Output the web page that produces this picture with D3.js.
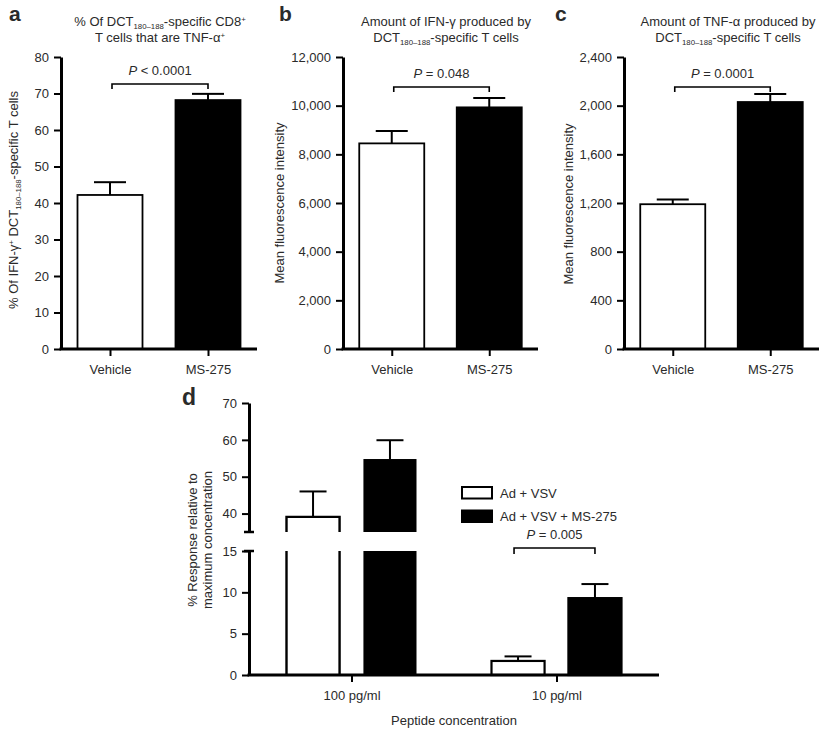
<!DOCTYPE html>
<html><head><meta charset="utf-8">
<script src="https://cdn.jsdelivr.net/npm/d3@7"></script>
<style>
body{margin:0;background:#fff;}
svg text{font-family:"Liberation Sans",Arial,Helvetica,sans-serif;fill:#2a2a2a;}
</style></head>
<body>
<svg id="chart" width="821" height="729"></svg>
<script>
// ---------- DATA ----------
const categories = ["Vehicle", "MS-275"];
const panelAValues = [42.2, 68.2];
const panelAErrors = [3.5, 1.7];
const panelATicks = [0, 10, 20, 30, 40, 50, 60, 70, 80];
const panelAP = "< 0.0001";

const panelBValues = [8450, 9930];
const panelBErrors = [510, 390];
const panelBTicks = [0, 2000, 4000, 6000, 8000, 10000, 12000];
const panelBP = "= 0.048";

const panelCValues = [1190, 2030];
const panelCErrors = [38, 65];
const panelCTicks = [0, 400, 800, 1200, 1600, 2000, 2400];
const panelCP = "= 0.0001";

const panelDGroups = ["100 pg/ml", "10 pg/ml"];
const panelDSeries = ["Ad + VSV", "Ad + VSV + MS-275"];
const panelDAdVsv = [39.1, 1.7];
const panelDAdVsvErr = [6.9, 0.55];
const panelDAdVsvMs = [54.8, 9.3];
const panelDAdVsvMsErr = [5.1, 1.7];
const panelDTicksTop = [40, 50, 60, 70];
const panelDTicksBottom = [0, 5, 10, 15];
const panelDBreak = [15, 35];
const panelDP = "= 0.005";

// ---------- HELPERS ----------
const svg = d3.select("#chart");
const fmt = d3.format(",");

function rich(sel, parts, size) {
  // parts: [text, kind] kind: "", "sub", "sup"
  let shift = 0;
  parts.forEach(([t, k]) => {
    const target = k === "sub" ? 2.5 : k === "sup" ? -4.5 : 0;
    sel.append("tspan").text(t)
      .attr("dy", target - shift)
      .attr("font-size", k ? size * 0.6 : size);
    shift = target;
  });
}

function styleAxis(g) {
  g.select(".domain").attr("stroke", "#000").attr("stroke-width", 3);
  g.selectAll(".tick line").attr("stroke", "#000").attr("stroke-width", 2);
  g.selectAll(".tick text").attr("font-size", 13).attr("fill", "#2a2a2a")
    .attr("font-family", '"Liberation Sans",Arial,sans-serif');
}

function errorBar(g, x, yFrom, yTo, capW) {
  g.append("line").attr("x1", x).attr("x2", x).attr("y1", yFrom).attr("y2", yTo)
    .attr("stroke", "#000").attr("stroke-width", 2);
  g.append("line").attr("x1", x - capW / 2).attr("x2", x + capW / 2).attr("y1", yTo).attr("y2", yTo)
    .attr("stroke", "#000").attr("stroke-width", 2);
}

function bracket(g, xa, xb, y, label, tipLen) {
  g.append("path").attr("d", `M${xa},${y + tipLen}V${y}H${xb}V${y + tipLen}`)
    .attr("fill", "none").attr("stroke", "#000").attr("stroke-width", 1.6);
  const t = g.append("text").attr("x", (xa + xb) / 2).attr("y", y - 9)
    .attr("text-anchor", "middle").attr("font-size", 13);
  t.append("tspan").attr("font-style", "italic").text("P");
  t.append("tspan").text(" " + label);
}

// ---------- PANELS a-c ----------
const panels = [
  { letter: "a", values: panelAValues, errors: panelAErrors, ticks: panelATicks, p: panelAP,
    x0: 61, x1: 257, letterX: 9, titleX: 160, ylabX: 18, ylabY: 200, bracketY: 84, tf: d => d,
    title: [[["% Of DCT", ""], ["180–188", "sub"], ["-specific CD8", ""], ["+", "sup"]],
            [["T cells that are TNF-α", ""], ["+", "sup"]]],
    ylab: [["% Of IFN-γ", ""], ["+", "sup"], [" DCT", ""], ["180–188", "sub"], ["-specific T cells", ""]] },
  { letter: "b", values: panelBValues, errors: panelBErrors, ticks: panelBTicks, p: panelBP,
    x0: 343, x1: 538, letterX: 279, titleX: 446, ylabX: 284, ylabY: 203, bracketY: 87, tf: fmt,
    title: [[["Amount of IFN-γ produced by", ""]],
            [["DCT", ""], ["180–188", "sub"], ["-specific T cells", ""]]],
    ylab: [["Mean fluorescence intensity", ""]] },
  { letter: "c", values: panelCValues, errors: panelCErrors, ticks: panelCTicks, p: panelCP,
    x0: 624, x1: 819, letterX: 555, titleX: 728, ylabX: 573, ylabY: 204, bracketY: 87, tf: fmt,
    title: [[["Amount of TNF-α produced by", ""]],
            [["DCT", ""], ["180–188", "sub"], ["-specific T cells", ""]]],
    ylab: [["Mean fluorescence intensity", ""]] }
];

const yTopPx = 57, yBotPx = 349, barW = 65;

panels.forEach(P => {
  const g = svg.append("g");
  const ymax = P.ticks[P.ticks.length - 1];
  const y = d3.scaleLinear().domain([0, ymax]).range([yBotPx, yTopPx]);
  const x = d3.scalePoint().domain(categories).range([P.x0, P.x1]).padding(0.5);

  categories.forEach((c, i) => {
    g.append("rect").attr("x", x(c) - barW / 2).attr("width", barW)
      .attr("y", y(P.values[i])).attr("height", y(0) - y(P.values[i]))
      .attr("fill", i === 0 ? "#fff" : "#000").attr("stroke", "#000").attr("stroke-width", 1.8);
    errorBar(g, x(c), y(P.values[i]), y(P.values[i] + P.errors[i]), 32);
  });

  const ya = g.append("g").attr("transform", `translate(${P.x0},0)`)
    .call(d3.axisLeft(y).tickValues(P.ticks).tickFormat(P.tf).tickSize(7).tickSizeOuter(0).tickPadding(5));
  styleAxis(ya);
  const xa = g.append("g").attr("transform", `translate(0,${yBotPx})`)
    .call(d3.axisBottom(x).tickSize(7).tickSizeOuter(0).tickPadding(9));
  styleAxis(xa);
  xa.select(".domain").attr("d", `M${P.x0 - 1.5},0H${P.x1}`);

  g.append("text").attr("x", P.letterX).attr("y", 21).attr("font-size", 21)
    .attr("font-weight", "bold").attr("fill", "#000").text(P.letter);
  P.title.forEach((line, li) => {
    const t = g.append("text").attr("x", P.titleX).attr("y", 26 + li * 16)
      .attr("text-anchor", "middle").attr("font-size", 13);
    rich(t, line, 13);
  });
  const yl = g.append("text").attr("transform", `translate(${P.ylabX},${P.ylabY}) rotate(-90)`)
    .attr("text-anchor", "middle").attr("font-size", 13);
  rich(yl, P.ylab, 13);

  bracket(g, x(categories[0]) + 2, x(categories[1]), P.bracketY, P.p, 5);
});

// ---------- PANEL d ----------
(function () {
  const g = svg.append("g");
  const X0 = 249, X1 = 659, BASE = 675;
  const yB = d3.scaleLinear().domain([0, panelDBreak[0]]).range([BASE, 551]);
  const yT = d3.scaleLinear().domain([panelDBreak[1], 70]).range([532, 403]);
  const x = d3.scalePoint().domain(panelDGroups).range([X0, X1]).padding(0.5);
  const xs = d3.scaleBand().domain(panelDSeries).range([-65, 65]).paddingInner(0.31);
  const bw = xs.bandwidth();
  const seriesVals = [panelDAdVsv, panelDAdVsvMs];
  const seriesErr = [panelDAdVsvErr, panelDAdVsvMsErr];

  function ypos(v) { return v <= panelDBreak[0] ? yB(v) : yT(v); }

  panelDGroups.forEach((grp, gi) => {
    panelDSeries.forEach((s, si) => {
      const v = seriesVals[si][gi], e = seriesErr[si][gi];
      const xl = x(grp) + xs(s), xr = xl + bw, cx = xl + bw / 2;
      const filled = si === 1;
      if (v > panelDBreak[0]) {
        if (filled) {
          g.append("rect").attr("x", xl).attr("width", bw).attr("y", yB(panelDBreak[0]))
            .attr("height", BASE - yB(panelDBreak[0])).attr("fill", "#000");
          g.append("rect").attr("x", xl).attr("width", bw).attr("y", yT(v))
            .attr("height", yT(panelDBreak[1]) - yT(v)).attr("fill", "#000");
        } else {
          g.append("path").attr("d", `M${xl},${BASE}V${yB(panelDBreak[0])}M${xr},${BASE}V${yB(panelDBreak[0])}`)
            .attr("stroke", "#000").attr("stroke-width", 2.4).attr("fill", "none");
          g.append("path").attr("d", `M${xl},${yT(panelDBreak[1])}V${yT(v)}H${xr}V${yT(panelDBreak[1])}`)
            .attr("stroke", "#000").attr("stroke-width", 2.4).attr("fill", "none");
        }
      } else {
        g.append("rect").attr("x", xl).attr("width", bw).attr("y", yB(v))
          .attr("height", BASE - yB(v)).attr("fill", filled ? "#000" : "#fff")
          .attr("stroke", "#000").attr("stroke-width", 2.2);
      }
      errorBar(g, cx, ypos(v), ypos(v + e), 27);
    });
  });

  const at = g.append("g").attr("transform", `translate(${X0},0)`)
    .call(d3.axisLeft(yT).tickValues(panelDTicksTop).tickSize(7).tickSizeOuter(0).tickPadding(5));
  styleAxis(at);
  const ab = g.append("g").attr("transform", `translate(${X0},0)`)
    .call(d3.axisLeft(yB).tickValues(panelDTicksBottom).tickSize(7).tickSizeOuter(0).tickPadding(5));
  styleAxis(ab);
  [yT(panelDBreak[1]), yB(panelDBreak[0])].forEach(yy => {
    g.append("line").attr("x1", X0 - 5).attr("x2", X0 + 5).attr("y1", yy).attr("y2", yy)
      .attr("stroke", "#000").attr("stroke-width", 2.5);
  });
  const xa = g.append("g").attr("transform", `translate(0,${BASE})`)
    .call(d3.axisBottom(x).tickSize(7).tickSizeOuter(0).tickPadding(9));
  styleAxis(xa);
  xa.select(".domain").attr("d", `M${X0 - 1.5},0H${X1}`);

  g.append("text").attr("x", 182).attr("y", 405).attr("font-size", 23)
    .attr("font-weight", "bold").attr("fill", "#000").text("d");

  const yl = g.append("text").attr("transform", `translate(197,540) rotate(-90)`)
    .attr("text-anchor", "middle").attr("font-size", 13);
  yl.append("tspan").attr("x", 0).attr("dy", 0).text("% Response relative to");
  yl.append("tspan").attr("x", 0).attr("dy", 14.5).text("maximum concentration");

  g.append("text").attr("x", 454).attr("y", 725).attr("text-anchor", "middle")
    .attr("font-size", 13).text("Peptide concentration");

  const grp = panelDGroups[1];
  bracket(g, x(grp) + xs(panelDSeries[0]) + bw / 2 - 4, x(grp) + xs(panelDSeries[1]) + bw / 2, 548, panelDP, 6);

  const lg = g.append("g");
  panelDSeries.forEach((s, i) => {
    const yy = 487 + i * 23.5;
    lg.append("rect").attr("x", 462).attr("y", yy).attr("width", 30).attr("height", 11.5)
      .attr("fill", i ? "#000" : "#fff").attr("stroke", "#000").attr("stroke-width", 2);
    lg.append("text").attr("x", 500).attr("y", yy + 10.5).attr("font-size", 13).text(s);
  });
})();
</script>
</body></html>
